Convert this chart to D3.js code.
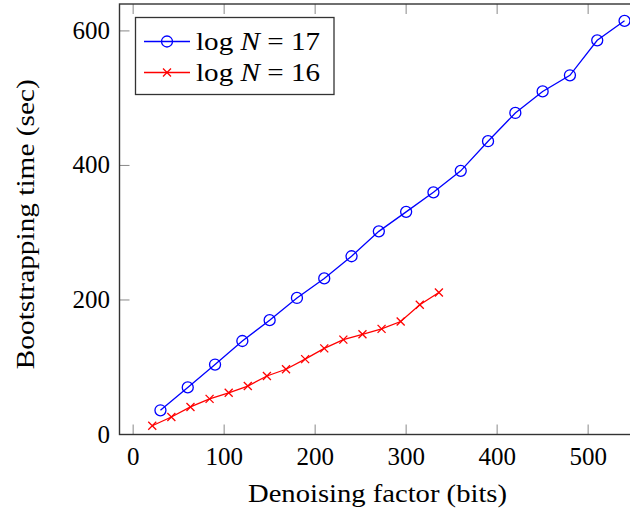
<!DOCTYPE html>
<html>
<head>
<meta charset="utf-8">
<script src="https://cdn.jsdelivr.net/npm/d3@7"></script>
<style>
  body { margin: 0; background: #fff; }
  svg { display: block; }
  svg text { font-family: "Liberation Serif", "Times New Roman", serif; }
</style>
</head>
<body>
<svg id="chart"></svg>
<script>
const W = 630, H = 510;

// data
const blueX = [30, 60, 90, 120, 150, 180, 210, 240, 270, 300, 330, 360, 390, 420, 450, 480, 510, 540];
const blueY = [36, 70, 104, 139, 170, 203, 232, 265, 302, 331, 360, 392, 436, 478, 510, 534, 586, 615];
const redX = [21, 42, 63, 84, 105, 126, 147, 168, 189, 210, 231, 252, 273, 294, 315, 336];
const redY = [13, 26, 41, 53, 62, 72, 87, 97, 112, 128, 141, 149, 157, 168, 193, 211];
const xTicks = [0, 100, 200, 300, 400, 500];
const yTicks = [0, 200, 400, 600];
const seriesNames = ["17", "16"];

const plot = { left: 119.5, right: 640, top: 4, bottom: 434.5 };

const x = d3.scaleLinear().domain([-15, 557]).range([plot.left, plot.right]);
const y = d3.scaleLinear().domain([0, 640]).range([plot.bottom, plot.top]);

const svg = d3.select("#chart")
    .attr("width", W)
    .attr("height", H);

const tickLen = 10;

// ticks (inside, on all four sides)
const ticks = svg.append("g").attr("stroke", "#888").attr("stroke-width", 1);
xTicks.forEach(t => {
    ticks.append("line").attr("x1", x(t)).attr("x2", x(t))
        .attr("y1", plot.bottom).attr("y2", plot.bottom - tickLen);
    ticks.append("line").attr("x1", x(t)).attr("x2", x(t))
        .attr("y1", plot.top).attr("y2", plot.top + tickLen);
});
yTicks.forEach(t => {
    ticks.append("line").attr("x1", plot.left).attr("x2", plot.left + tickLen)
        .attr("y1", y(t)).attr("y2", y(t));
    ticks.append("line").attr("x1", plot.right).attr("x2", plot.right - tickLen)
        .attr("y1", y(t)).attr("y2", y(t));
});

// axis frame
svg.append("rect")
    .attr("x", plot.left).attr("y", plot.top)
    .attr("width", plot.right - plot.left)
    .attr("height", plot.bottom - plot.top)
    .attr("fill", "none")
    .attr("stroke", "#333")
    .attr("stroke-width", 1.4);

// tick labels
svg.append("g").selectAll("text")
    .data(xTicks)
    .join("text")
    .attr("x", d => x(d))
    .attr("y", 465)
    .attr("text-anchor", "middle")
    .attr("font-size", 25)
    .text(d => d);

svg.append("g").selectAll("text")
    .data(yTicks)
    .join("text")
    .attr("x", 110)
    .attr("y", d => y(d) + 8)
    .attr("text-anchor", "end")
    .attr("font-size", 25)
    .text(d => d);

// axis labels
svg.append("text")
    .attr("x", (248 + 507) / 2)
    .attr("y", 502)
    .attr("text-anchor", "middle")
    .attr("font-size", 25)
    .attr("textLength", 259)
    .attr("lengthAdjust", "spacingAndGlyphs")
    .text("Denoising factor (bits)");

svg.append("text")
    .attr("transform", `translate(34, ${(plot.top + plot.bottom) / 2 + 5}) rotate(-90)`)
    .attr("text-anchor", "middle")
    .attr("font-size", 25)
    .attr("textLength", 290)
    .attr("lengthAdjust", "spacingAndGlyphs")
    .text("Bootstrapping time (sec)");

// series
const line = d3.line().x(d => x(d[0])).y(d => y(d[1]));
const blue = d3.zip(blueX, blueY);
const red = d3.zip(redX, redY);

function circleMark(g, cx, cy) {
    g.append("circle").attr("cx", cx).attr("cy", cy).attr("r", 5.5)
        .attr("fill", "none").attr("stroke", "#0000ff").attr("stroke-width", 1.3);
}
function crossMark(g, cx, cy) {
    const s = 4;
    g.append("path")
        .attr("d", `M${cx - s},${cy - s}L${cx + s},${cy + s}M${cx - s},${cy + s}L${cx + s},${cy - s}`)
        .attr("stroke", "#ff0000").attr("stroke-width", 1.3).attr("fill", "none");
}

svg.append("path").datum(blue).attr("d", line)
    .attr("fill", "none").attr("stroke", "#0000ff").attr("stroke-width", 1.3);
const gb = svg.append("g");
blue.forEach(d => circleMark(gb, x(d[0]), y(d[1])));

svg.append("path").datum(red).attr("d", line)
    .attr("fill", "none").attr("stroke", "#ff0000").attr("stroke-width", 1.3);
const gr = svg.append("g");
red.forEach(d => crossMark(gr, x(d[0]), y(d[1])));

// legend
const legend = svg.append("g");
legend.append("rect")
    .attr("x", 135.5).attr("y", 17.5)
    .attr("width", 198.5).attr("height", 77)
    .attr("fill", "#fff")
    .attr("stroke", "#333").attr("stroke-width", 1.3);

const rows = [
    { yy: 41.5, color: "#0000ff", mark: circleMark, name: seriesNames[0] },
    { yy: 72.5, color: "#ff0000", mark: crossMark, name: seriesNames[1] }
];
rows.forEach(r => {
    legend.append("line")
        .attr("x1", 144).attr("x2", 190)
        .attr("y1", r.yy).attr("y2", r.yy)
        .attr("stroke", r.color).attr("stroke-width", 1.3);
    r.mark(legend, 167, r.yy);
    const t = legend.append("text")
        .attr("x", 196).attr("y", r.yy + 8)
        .attr("font-size", 25)
        .attr("textLength", 124)
        .attr("lengthAdjust", "spacingAndGlyphs");
    t.append("tspan").text("log ");
    t.append("tspan").attr("font-style", "italic").text("N");
    t.append("tspan").text(" = " + r.name);
});
</script>
</body>
</html>
